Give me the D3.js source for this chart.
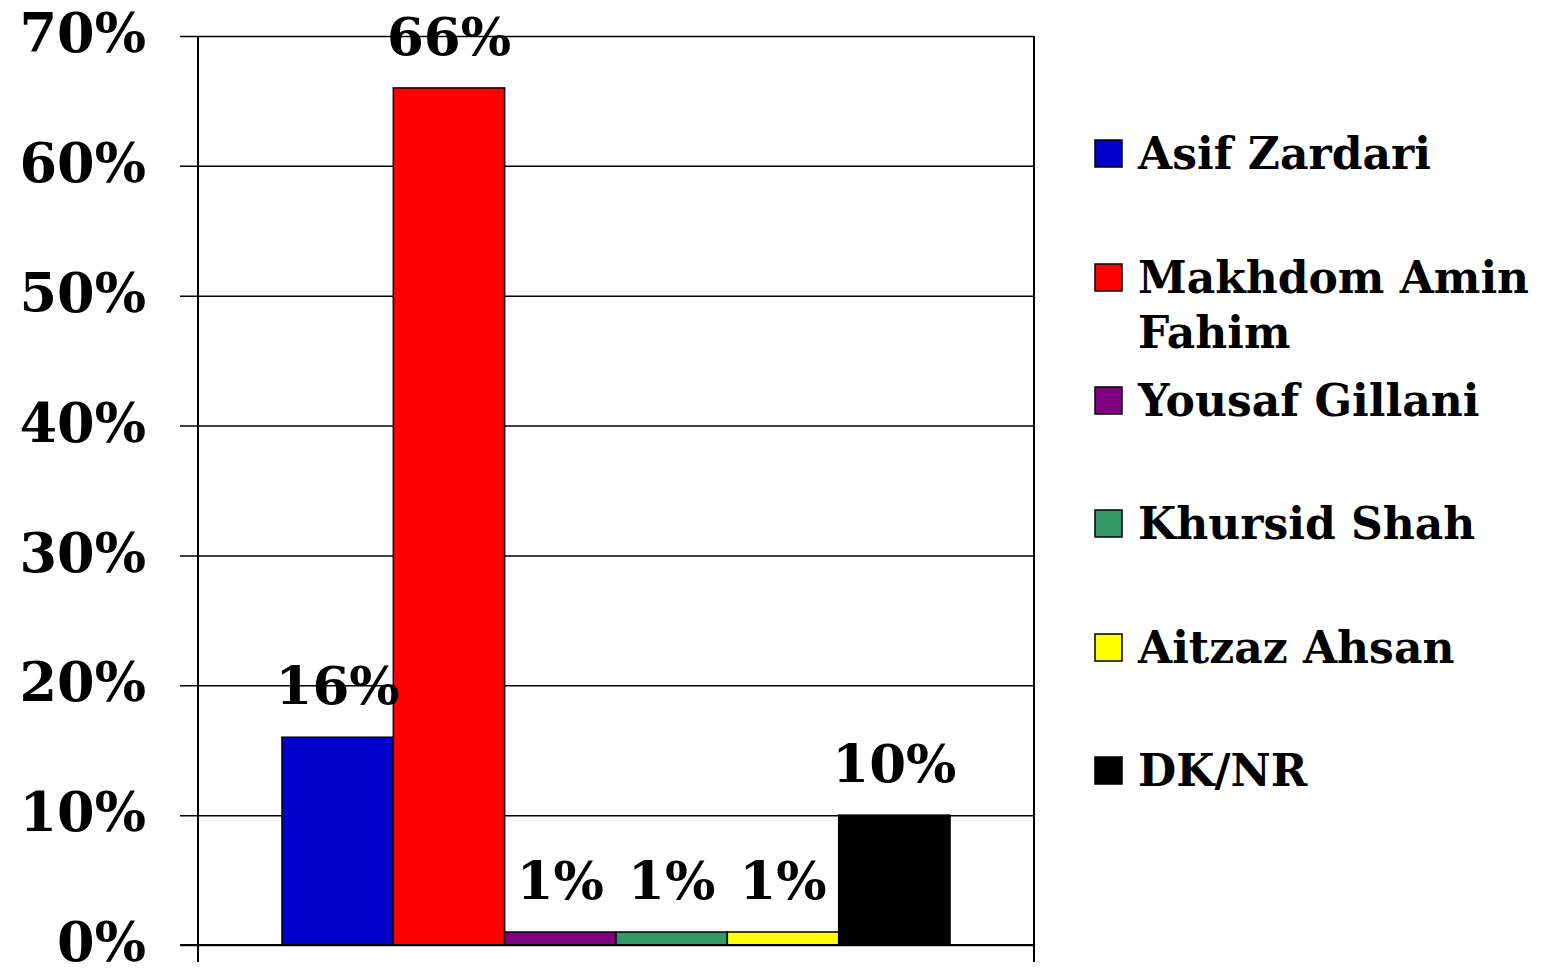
<!DOCTYPE html>
<html>
<head>
<meta charset="utf-8">
<script src="https://cdn.jsdelivr.net/npm/d3@7"></script>
<style>
  html, body { margin: 0; padding: 0; background: #fff; }
  svg { display: block; }
  text { font-family: "DejaVu Serif", "Liberation Serif", serif; font-weight: bold; fill: #000; }
</style>
</head>
<body>
<svg id="chart" width="1541" height="969"></svg>
<script>
// Survey results: preferred candidate
const categories = ["All"];
const seriesNames = ["Asif Zardari", "Makhdom Amin Fahim", "Yousaf Gillani", "Khursid Shah", "Aitzaz Ahsan", "DK/NR"];
const seriesValues = [16, 66, 1, 1, 1, 10];
const seriesColors = ["#0000CC", "#FF0000", "#800080", "#339966", "#FFFF00", "#000000"];
const legendLines = [["Asif Zardari"], ["Makhdom Amin", "Fahim"], ["Yousaf Gillani"], ["Khursid Shah"], ["Aitzaz Ahsan"], ["DK/NR"]];
const yTicks = [0, 10, 20, 30, 40, 50, 60, 70];

const svg = d3.select("#chart");
const plot = { left: 198, right: 1034, top: 36, bottom: 945 };

const y = d3.scaleLinear().domain([0, 70]).range([plot.bottom, plot.top]);
const x0 = d3.scaleBand().domain(categories).range([plot.left, plot.right]).paddingInner(0).paddingOuter(0.1257);
const x1 = d3.scaleBand().domain(seriesNames).range([0, x0.bandwidth()]);

// Gridlines with short tick stubs on the left
const yAxis = d3.axisLeft(y).tickValues(yTicks).tickSize(plot.right - plot.left + 18).tickFormat(d => d + "%").tickPadding(0);
const gAxis = svg.append("g").attr("transform", `translate(${plot.right},0)`).call(yAxis);
gAxis.select(".domain").remove();
gAxis.selectAll(".tick line").attr("stroke", "#000").attr("stroke-width", 1.5);
gAxis.selectAll(".tick text").remove();

// Y tick labels
svg.append("g").selectAll("text").data(yTicks).join("text")
  .attr("x", 146).attr("y", d => y(d)).attr("dy", "0.3em")
  .attr("text-anchor", "end").attr("font-size", 54)
  .text(d => d + "%");

// Left axis line and right border, both extending below zero as category tick marks
[plot.left, plot.right].forEach(xp => {
  svg.append("line").attr("x1", xp).attr("x2", xp).attr("y1", plot.top).attr("y2", plot.bottom + 17)
    .attr("stroke", "#000").attr("stroke-width", 2);
});

// Bars
const data = seriesNames.map((n, i) => ({ name: n, value: seriesValues[i], color: seriesColors[i] }));
const gBars = svg.append("g").attr("transform", `translate(${x0(categories[0])},0)`);
gBars.selectAll("rect").data(data).join("rect")
  .attr("x", d => x1(d.name)).attr("width", x1.bandwidth())
  .attr("y", d => y(d.value)).attr("height", d => y(0) - y(d.value))
  .attr("fill", d => d.color).attr("stroke", "#000").attr("stroke-width", 1.5);

// Value labels
gBars.selectAll("text").data(data).join("text")
  .attr("x", d => x1(d.name) + x1.bandwidth() / 2)
  .attr("y", d => y(d.value) - 33)
  .attr("text-anchor", "middle").attr("font-size", 53)
  .text(d => d.value + "%");

// X axis baseline
svg.append("line").attr("x1", plot.left - 18).attr("x2", plot.right).attr("y1", y(0)).attr("y2", y(0))
  .attr("stroke", "#000").attr("stroke-width", 2);

// Legend
const legendY = [153, 277, 400, 523, 647, 770];
const gLeg = svg.append("g");
data.forEach((d, i) => {
  gLeg.append("rect").attr("x", 1095).attr("y", legendY[i] - 13).attr("width", 27).attr("height", 27)
    .attr("fill", d.color).attr("stroke", "#000").attr("stroke-width", 1.5);
  const t = gLeg.append("text").attr("x", 1138).attr("y", legendY[i]).attr("font-size", 44);
  legendLines[i].forEach((line, j) => {
    t.append("tspan").attr("x", 1138).attr("y", legendY[i] + j * 55).attr("dy", "0.36em").text(line);
  });
});
</script>
</body>
</html>
